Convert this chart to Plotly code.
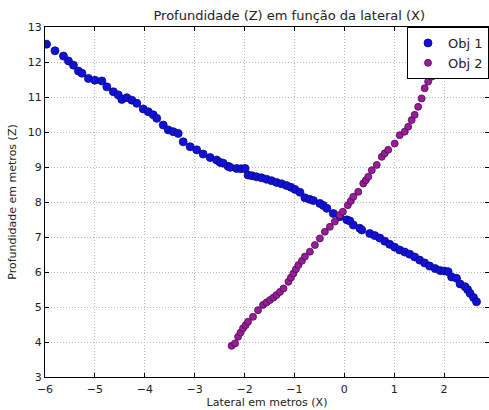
import plotly.graph_objects as go

# Obj 1 (blue)
obj1_x = [-5.97, -5.80, -5.63, -5.53, -5.43, -5.33, -5.26, -5.13, -5.00, -4.86,
          -4.76, -4.63, -4.53, -4.46, -4.36, -4.26, -4.16, -4.03, -3.93, -3.83,
          -3.76, -3.63, -3.53, -3.43, -3.33, -3.23, -3.09, -2.96, -2.83, -2.69,
          -2.56, -2.49, -2.43, -2.33, -2.29, -2.16, -2.07, -1.99, -1.93, -1.85,
          -1.76, -1.66, -1.56, -1.46, -1.36, -1.26, -1.16, -1.07, -0.99, -0.89,
          -0.79, -0.70, -0.62, -0.49, -0.42, -0.35, -0.22, -0.09, 0.05, 0.11,
          0.18, 0.31, 0.35, 0.51, 0.61, 0.71, 0.81, 0.91, 1.01, 1.11,
          1.21, 1.31, 1.41, 1.51, 1.61, 1.71, 1.82, 1.92, 2.00, 2.08,
          2.15, 2.25, 2.32, 2.42, 2.47, 2.52, 2.59, 2.65]
obj1_z = [12.51, 12.32, 12.17, 12.03, 11.91, 11.74, 11.68, 11.53, 11.48, 11.46,
          11.29, 11.15, 11.06, 10.93, 10.98, 10.91, 10.82, 10.66, 10.58, 10.49,
          10.39, 10.20, 10.06, 10.01, 9.96, 9.72, 9.58, 9.49, 9.37, 9.27,
          9.20, 9.13, 9.11, 9.02, 8.99, 8.96, 8.95, 8.96, 8.77, 8.75,
          8.72, 8.69, 8.65, 8.61, 8.56, 8.52, 8.47, 8.42, 8.36, 8.28,
          8.12, 8.08, 8.04, 7.96, 7.90, 7.82, 7.67, 7.58, 7.49, 7.46,
          7.34, 7.25, 7.20, 7.10, 7.04, 6.97, 6.88, 6.79, 6.71, 6.63,
          6.57, 6.51, 6.43, 6.34, 6.26, 6.17, 6.10, 6.04, 6.03, 6.01,
          5.86, 5.82, 5.66, 5.58, 5.50, 5.39, 5.27, 5.15]

# Obj 2 (purple)
obj2_x = [-2.26, -2.19, -2.13, -2.08, -2.03, -1.98, -1.93, -1.83, -1.73, -1.63,
          -1.56, -1.49, -1.42, -1.36, -1.29, -1.22, -1.12, -1.07, -1.02, -0.97,
          -0.92, -0.85, -0.79, -0.69, -0.59, -0.49, -0.39, -0.29, -0.19, -0.09,
          -0.03, 0.07, 0.13, 0.18, 0.28, 0.38, 0.43, 0.48, 0.55, 0.65,
          0.75, 0.81, 0.88, 1.01, 1.11, 1.21, 1.28, 1.35, 1.41, 1.48,
          1.55, 1.61, 1.68, 1.75, 1.78, 1.82, 1.86]
obj2_z = [3.89, 3.96, 4.15, 4.27, 4.39, 4.48, 4.58, 4.72, 4.91, 5.06,
          5.13, 5.20, 5.27, 5.34, 5.43, 5.53, 5.72, 5.84, 5.96, 6.08,
          6.20, 6.32, 6.44, 6.58, 6.77, 6.96, 7.15, 7.29, 7.44, 7.63,
          7.72, 7.91, 8.03, 8.15, 8.29, 8.53, 8.62, 8.72, 8.91, 9.06,
          9.29, 9.39, 9.49, 9.67, 9.91, 10.01, 10.15, 10.34, 10.49, 10.72,
          10.96, 11.25, 11.44, 11.58, 11.67, 11.90, 12.10]

font = "DejaVu Sans, Liberation Sans, sans-serif"

fig = go.Figure()
fig.add_trace(go.Scatter(
    x=obj1_x, y=obj1_z, mode="markers", name="Obj 1",
    marker=dict(color="#1010dd", size=8, line=dict(color="#0a0a70", width=0.8)),
))
fig.add_trace(go.Scatter(
    x=obj2_x, y=obj2_z, mode="markers", name="Obj 2",
    marker=dict(color="#9a1c9a", size=7, line=dict(color="#4a0c4a", width=0.8)),
))

axis_common = dict(
    showgrid=True, gridcolor="#b8b8b8", griddash="1px,2px", gridwidth=1,
    showline=True, linecolor="black", linewidth=1, mirror="ticks",
    ticks="inside", ticklen=4, tickcolor="black",
    tickfont=dict(family=font, size=11, color="#222"),
    zeroline=False,
)

fig.update_layout(
    width=489, height=410,
    margin=dict(l=45, r=0, t=27, b=33),
    paper_bgcolor="white", plot_bgcolor="white",
    title=dict(text="Profundidade (Z) em função da lateral (X)",
               x=269 / 489, xref="paper", xanchor="center",
               y=1 - 15 / 410, yref="container", yanchor="middle",
               font=dict(family=font, size=13, color="#222")),
    xaxis=dict(range=[-6, 2.9], tickvals=[-6, -5, -4, -3, -2, -1, 0, 1, 2],
               ticktext=["\u22126", "\u22125", "\u22124", "\u22123", "\u22122", "\u22121", "0", "1", "2"],
               ticklabelstandoff=2,
               title=dict(text="Lateral em metros (X)", standoff=2,
                          font=dict(family=font, size=11, color="#222")),
               **axis_common),
    yaxis=dict(range=[3, 13], dtick=1,
               title=dict(text="Profundidade em metros (Z)", standoff=8,
                          font=dict(family=font, size=11, color="#222")),
               **axis_common),
    legend=dict(x=1, y=1, xanchor="right", yanchor="top",
                bgcolor="white", bordercolor="black", borderwidth=1,
                font=dict(family=font, size=13, color="#222"),
                itemwidth=30, tracegroupgap=2),
    showlegend=True,
)

fig.write_html("out.html")
